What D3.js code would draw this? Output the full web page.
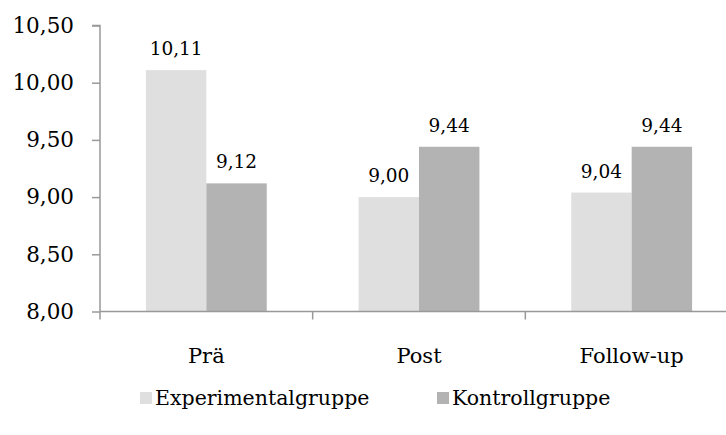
<!DOCTYPE html>
<html><head><meta charset="utf-8">
<script src="https://cdn.jsdelivr.net/npm/d3@7"></script>
<style>body{margin:0;background:#fff}svg{display:block}</style>
</head><body>
<svg id="c" width="726" height="435"></svg>
<script>
const categories = ["Prä", "Post", "Follow-up"];
const seriesNames = ["Experimentalgruppe", "Kontrollgruppe"];
const experimental = [10.11, 9.00, 9.04];
const kontroll = [9.12, 9.44, 9.44];
const yTicks = [8.0, 8.5, 9.0, 9.5, 10.0, 10.5];
const colors = ["#dfdfdf", "#b3b3b3"];
const font = "'DejaVu Serif', serif";

const svg = d3.select("#c");
const mLeft = 100, mRight = 738, mTop = 25.5, mBottom = 311.5;
const x = d3.scaleBand().domain(categories).range([mLeft, mRight]).padding(0);
const xs = d3.scaleBand().domain(seriesNames).range([0, x.bandwidth()]).paddingInner(0).paddingOuter(0.76);
const y = d3.scaleLinear().domain([8, 10.5]).range([mBottom, mTop]);
const fmt = v => d3.format(".2f")(v).replace(".", ",");

const data = categories.map((c, i) => ({c, vals: [experimental[i], kontroll[i]]}));

const g = svg.append("g");
data.forEach(d => {
  d.vals.forEach((v, j) => {
    const bx = x(d.c) + xs(seriesNames[j]);
    g.append("rect").attr("x", bx).attr("y", y(v)).attr("width", xs.bandwidth())
      .attr("height", y(8) - y(v)).attr("fill", colors[j]);
    g.append("text").attr("x", bx + xs.bandwidth() / 2).attr("y", y(v) - 15)
      .attr("text-anchor", "middle").attr("font-family", font).attr("font-size", 18.5)
      .attr("fill", "#000").text(fmt(v));
  });
});

const yAxis = svg.append("g").attr("transform", `translate(${mLeft},0)`)
  .call(d3.axisLeft(y).tickValues(yTicks).tickFormat(fmt).tickSize(8).tickPadding(18));
yAxis.selectAll("path,line").attr("stroke", "#999").attr("stroke-width", 1.5);
yAxis.select(".domain").attr("d", `M-8,${mTop}H0V${mBottom}`);
yAxis.selectAll("text").attr("font-family", font).attr("font-size", 21.5).attr("fill", "#000");

const xAxis = svg.append("g").attr("transform", `translate(0,${mBottom})`)
  .call(d3.axisBottom(x).tickSize(0).tickPadding(0));
xAxis.select(".domain").attr("d", `M${mLeft},0H${mRight}`).attr("stroke", "#999").attr("stroke-width", 1.5);
xAxis.selectAll("text").attr("font-family", font).attr("font-size", 21).attr("fill", "#000").attr("dy", 0).attr("y", 51);
const bounds = categories.map(c => x(c)).concat([mRight]);
xAxis.selectAll(".bnd").data(bounds).enter().append("line").attr("class", "bnd")
  .attr("x1", d => d).attr("x2", d => d).attr("y1", 0).attr("y2", 8)
  .attr("stroke", "#999").attr("stroke-width", 1.5);

const legendX = [140, 437];
const lg = svg.append("g");
seriesNames.forEach((s, j) => {
  lg.append("rect").attr("x", legendX[j]).attr("y", 392).attr("width", 12).attr("height", 12).attr("fill", colors[j]);
  lg.append("text").attr("x", legendX[j] + 15).attr("y", 405).attr("font-family", font).attr("font-size", 20.5)
    .attr("fill", "#000").text(s);
});
</script>
</body></html>
